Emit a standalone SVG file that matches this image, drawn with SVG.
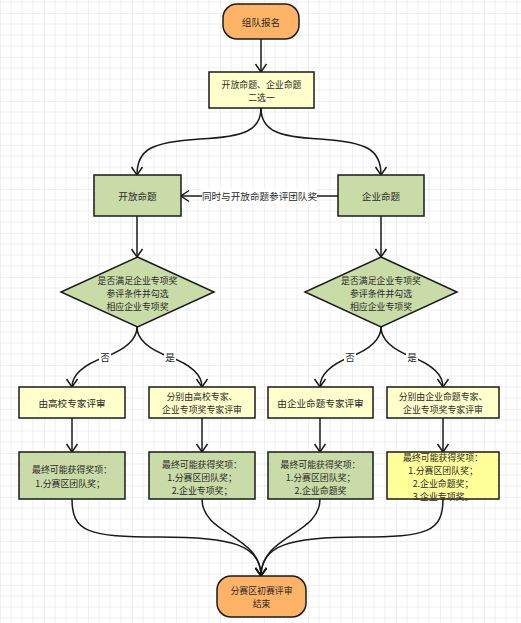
<svg xmlns="http://www.w3.org/2000/svg" width="521" height="623" viewBox="0 0 521 623">
<style>
  text { font-family: "Noto Sans CJK SC", "Noto Sans", sans-serif; font-size: 9.6px; fill: #2a2a2a; text-anchor: middle; dominant-baseline: central; }
  text.ml { font-size: 8.9px; }
  .box { stroke: #1a1a1a; stroke-width: 1.5; }
  .orange { fill: #FFB366; }
  .lightyellow { fill: #FFFFCC; }
  .green { fill: #C9DBA7; }
  .yellow { fill: #FFFF99; }
  .edge { fill: none; stroke: #1a1a1a; stroke-width: 1.5; }
  .arrow { marker-end: url(#arr); }
  .lbl { fill: #ffffff; }
</style>
<defs>
  <pattern id="grid" width="44" height="44" patternUnits="userSpaceOnUse" patternTransform="translate(0,13)">
    <path d="M11,0V44M22,0V44M33,0V44M0,11H44M0,22H44M0,33H44" stroke="#efefef" stroke-width="1" fill="none"/>
    <path d="M0,0V44M0,0H44" stroke="#e2e2e2" stroke-width="1" fill="none"/>
  </pattern>
  <marker id="arr" markerUnits="userSpaceOnUse" markerWidth="16" markerHeight="16" viewBox="-10 -8 12 16" refX="0" refY="0" orient="auto" overflow="visible">
    <path d="M-8,-5.5 L0,0 L-8,5.5" fill="none" stroke="#1a1a1a" stroke-width="1.5"/>
  </marker>
</defs>
<rect width="521" height="623" fill="#ffffff"/>
<rect width="521" height="623" fill="url(#grid)"/>

<g id="connectors">
  <path class="edge arrow" d="M261,39 L261,72"/>
  <path class="edge arrow" d="M261,108 C261,130 245,137 200,139 C150,142 137,150 137,175"/>
  <path class="edge arrow" d="M261,108 C261,130 277,137 320,139 C368,142 381,150 381,175"/>
  <path class="edge arrow" d="M338,196 L181,196"/>
  <rect class="lbl" x="202" y="189" width="115" height="14"/>
  <text x="259.5" y="196">同时与开放命题参评团队奖</text>
  <path class="edge arrow" d="M137,216 L137,257"/>
  <path class="edge arrow" d="M381,216 L381,257"/>
  <path class="edge arrow" d="M137,327 Q137,345 105,357 Q72,369 72,387"/>
  <path class="edge arrow" d="M137,327 Q137,345 170,357 Q202,369 202,387"/>
  <path class="edge arrow" d="M381,327 Q381,345 350,357 Q320,369 320,387"/>
  <path class="edge arrow" d="M381,327 Q381,345 412,357 Q443,369 443,387"/>
  <rect class="lbl" x="99" y="351" width="12" height="13"/>
  <text x="105" y="357">否</text>
  <rect class="lbl" x="164" y="351" width="12" height="13"/>
  <text x="170" y="357">是</text>
  <rect class="lbl" x="344" y="351" width="12" height="13"/>
  <text x="350" y="357">否</text>
  <rect class="lbl" x="406" y="351" width="12" height="13"/>
  <text x="412" y="357">是</text>
  <path class="edge arrow" d="M72,418 L72,452"/>
  <path class="edge arrow" d="M202,418 L202,452"/>
  <path class="edge arrow" d="M320,418 L320,452"/>
  <path class="edge arrow" d="M443,418 L443,452"/>
  <path class="edge arrow" d="M72,499 C72,532 88,537 160,537 C232,537 261,545 261,576"/>
  <path class="edge arrow" d="M202,499 C202,535 261,535 261,576"/>
  <path class="edge arrow" d="M320,499 C320,535 261,535 261,576"/>
  <path class="edge arrow" d="M443,499 C443,532 427,537 360,537 C290,537 261,545 261,576"/>
</g>

<g id="start">
  <rect class="box orange" x="223" y="4" width="76" height="35" rx="14"/>
  <text x="261" y="22">组队报名</text>
</g>
<g id="choose">
  <rect class="box lightyellow" x="209" y="72" width="105" height="36"/>
  <text class="ml" x="261.5" y="84">开放命题、企业命题<tspan x="261.5" dy="13">二选一</tspan></text>
</g>
<g id="open">
  <rect class="box green" x="94" y="175" width="87" height="41"/>
  <text x="137.5" y="196">开放命题</text>
</g>
<g id="enterprise">
  <rect class="box green" x="338" y="175" width="86" height="41"/>
  <text x="381" y="196">企业命题</text>
</g>
<g id="decision-left">
  <polygon class="box green" points="137.5,257 214,292 137.5,327 61,292"/>
  <text class="ml" x="137.5" y="280">是否满足企业专项奖<tspan x="137.5" dy="13">参评条件并勾选</tspan><tspan x="137.5" dy="13">相应企业专项奖</tspan></text>
</g>
<g id="decision-right">
  <polygon class="box green" points="381,257 457,292 381,327 305,292"/>
  <text class="ml" x="381" y="280">是否满足企业专项奖<tspan x="381" dy="13">参评条件并勾选</tspan><tspan x="381" dy="13">相应企业专项奖</tspan></text>
</g>
<g id="review-1">
  <rect class="box lightyellow" x="19" y="387" width="106" height="31"/>
  <text x="72" y="402.5">由高校专家评审</text>
</g>
<g id="review-2">
  <rect class="box lightyellow" x="149" y="387" width="106" height="31"/>
  <text class="ml" x="202" y="396">分别由高校专家、<tspan x="202" dy="13">企业专项奖专家评审</tspan></text>
</g>
<g id="review-3">
  <rect class="box lightyellow" x="268" y="387" width="105" height="31"/>
  <text x="320.5" y="402.5">由企业命题专家评审</text>
</g>
<g id="review-4">
  <rect class="box lightyellow" x="387" y="387" width="112" height="31"/>
  <text class="ml" x="443" y="396">分别由企业命题专家、<tspan x="443" dy="13">企业专项奖专家评审</tspan></text>
</g>
<g id="result-1">
  <rect class="box green" x="19" y="452" width="106" height="47"/>
  <text class="ml" x="72" y="469.5">最终可能获得奖项：<tspan x="70" dy="13">1.分赛区团队奖；</tspan></text>
</g>
<g id="result-2">
  <rect class="box green" x="149" y="452" width="106" height="47"/>
  <text class="ml" x="202" y="464">最终可能获得奖项：<tspan x="202" dy="13">1.分赛区团队奖；</tspan><tspan x="202" dy="13">2.企业专项奖；</tspan></text>
</g>
<g id="result-3">
  <rect class="box green" x="268" y="452" width="105" height="47"/>
  <text class="ml" x="320.5" y="464">最终可能获得奖项：<tspan x="320.5" dy="13">1.分赛区团队奖；</tspan><tspan x="320.5" dy="13">2.企业命题奖</tspan></text>
</g>
<g id="result-4">
  <rect class="box yellow" x="387" y="452" width="112" height="47"/>
  <text class="ml" x="443" y="457">最终可能获得奖项：<tspan x="443" dy="13">1.分赛区团队奖；</tspan><tspan x="443" dy="13">2.企业命题奖；</tspan><tspan x="443" dy="13">3.企业专项奖。</tspan></text>
</g>
<g id="end">
  <rect class="box orange" x="217" y="576" width="89" height="41" rx="14"/>
  <text class="ml" x="261.5" y="590">分赛区初赛评审<tspan x="261.5" dy="13">结束</tspan></text>
</g>
</svg>
